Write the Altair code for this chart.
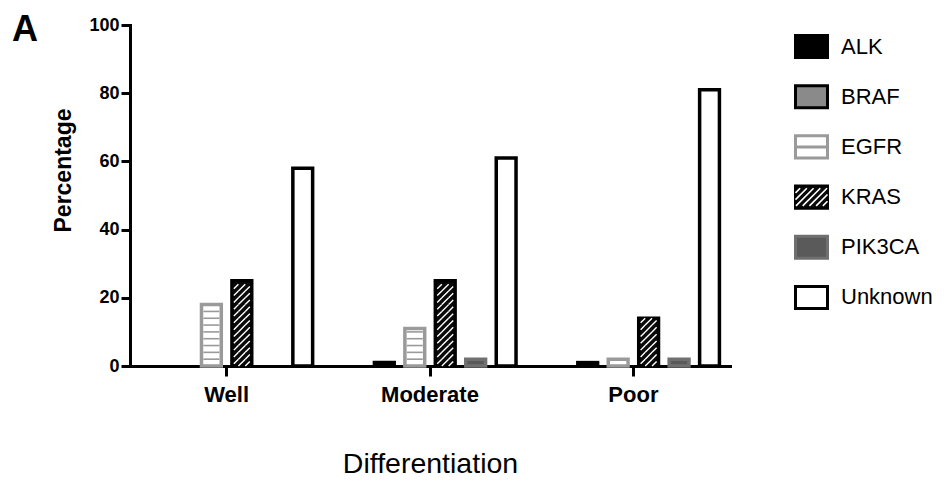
import altair as alt
import pandas as pd
import math

groups = ["Well", "Moderate", "Poor"]
genes = ["ALK", "BRAF", "EGFR", "KRAS", "PIK3CA", "Unknown"]
well = [0, 0, 18, 25, 0, 58]
moderate = [0, 1, 11, 25, 2, 61]
poor = [0, 1, 2, 14, 2, 81]
y_ticks = [0, 20, 40, 60, 80, 100]
panel_label = ["A"]

fills = ["#000000", "#8a8a8a", "#ffffff", "#0a0a0a", "#5a5a5a", "#ffffff"]
strokes = ["#000000", "#000000", "#9a9a9a", "#000000", "#707070", "#000000"]

PLOT_W = 600
PLOT_H = 341

rows = []
for g, vals in zip(groups, [well, moderate, poor]):
    for gene, v in zip(genes, vals):
        rows.append({"group": g, "gene": gene, "value": v})
df = pd.DataFrame(rows)

# EGFR horizontal stripes every 2 units
stripe_rows = [{"group": r.group, "gene": r.gene, "level": k}
               for r in df.itertuples() if r.gene == "EGFR"
               for k in range(2, int(r.value), 2)]
stripes = pd.DataFrame(stripe_rows)

# KRAS hatch tiles of 2 units each
hatch_rows = [{"group": r.group, "gene": r.gene, "center": 2 * k + 1}
              for r in df.itertuples() if r.gene == "KRAS"
              for k in range(int(r.value) // 2)]
hatch = pd.DataFrame(hatch_rows)


def hatch_path(h, step):
    """Diagonal '/' lines clipped to [-1,1]x[-h,h]."""
    parts = []
    kmax = int(math.ceil((1 + h) / step)) + 1
    for k in range(-kmax, kmax + 1):
        c = k * step
        x1 = max(-1.0, c - h)
        x2 = min(1.0, c + h)
        if x2 - x1 > 1e-6:
            parts.append(f"M {x1:.3f} {c - x1:.3f} L {x2:.3f} {c - x2:.3f}")
    return " ".join(parts)


tile_r = 8.0
tile_h = (2 * PLOT_H / 100) / 2 / tile_r
bar_hatch = hatch_path(tile_h, 2 * tile_h)

fill_scale = alt.Scale(domain=genes, range=fills)
stroke_scale = alt.Scale(domain=genes, range=strokes)

x_enc = alt.X("group:N", sort=groups,
              scale=alt.Scale(domain=groups, paddingInner=0.154, paddingOuter=0.052),
              axis=alt.Axis(title="Differentiation", labelAngle=0, labelFontSize=22,
                            labelFontWeight="bold", labelColor="black", tickSize=10,
                            labelPadding=8, titleFontSize=28.5, titleFontWeight="normal",
                            titleColor="black", titlePadding=44, domainWidth=3,
                            domainColor="black", tickWidth=3, tickColor="black",
                            domainCap="square"))
xo_enc = alt.XOffset("gene:N", sort=genes,
                     scale=alt.Scale(domain=genes, paddingInner=0.35, paddingOuter=0))
y_scale = alt.Scale(domain=[0, 100], nice=False)

bars = alt.Chart(df).transform_filter("datum.value > 0").mark_bar(
    strokeWidth=3.5, strokeJoin="miter"
).encode(
    x=x_enc,
    xOffset=xo_enc,
    y=alt.Y("value:Q", scale=y_scale,
            axis=alt.Axis(values=y_ticks, title="Percentage", titleFontSize=23,
                          titleFontWeight="bold", titleColor="black", labelFontSize=18,
                          labelFontWeight="bold", labelColor="black", tickSize=9,
                          labelPadding=2, titlePadding=13, domainWidth=3,
                          domainColor="black", tickWidth=3, tickColor="black",
                          grid=False, titleY=145, domainCap="square")),
    fill=alt.Fill("gene:N", scale=fill_scale, legend=None),
    stroke=alt.Stroke("gene:N", scale=stroke_scale, legend=None),
)

stripe_layer = alt.Chart(stripes).mark_tick(
    thickness=1.6, size=16, color="#9a9a9a", opacity=1
).encode(
    x=alt.X("group:N", sort=groups),
    xOffset=alt.XOffset("gene:N", sort=genes),
    y=alt.Y("level:Q", scale=y_scale),
)

hatch_layer = alt.Chart(hatch).mark_point(
    shape=bar_hatch, size=(2 * tile_r) ** 2, filled=False, stroke="white",
    strokeWidth=1.4, opacity=1
).encode(
    x=alt.X("group:N", sort=groups),
    xOffset=alt.XOffset("gene:N", sort=genes),
    y=alt.Y("center:Q", scale=y_scale),
)

label_layer = alt.Chart(pd.DataFrame({"label": panel_label})).mark_text(
    align="left", baseline="alphabetic", fontSize=36, fontWeight="bold",
    font="Liberation Sans", color="black"
).encode(x=alt.value(-118), y=alt.value(16), text="label:N")

main = alt.layer(bars, stripe_layer, hatch_layer, label_layer).properties(
    width=PLOT_W, height=PLOT_H,
)

# ---------- custom legend ----------
leg = pd.DataFrame({"gene": genes})
ly = alt.Y("gene:N", sort=genes,
           scale=alt.Scale(type="point", domain=genes, padding=0.43), axis=None)
rect_path = "M -1 -0.69 L 1 -0.69 L 1 0.69 L -1 0.69 Z"
SW = 32
sw_x = 81.5

swatch = alt.Chart(leg).mark_point(
    shape=rect_path, size=SW ** 2, filled=True, strokeWidth=3, opacity=1
).encode(
    y=ly, x=alt.value(sw_x),
    fill=alt.Fill("gene:N", scale=fill_scale, legend=None),
    stroke=alt.Stroke("gene:N", scale=stroke_scale, legend=None),
)

egfr_line = alt.Chart(leg).transform_filter("datum.gene == 'EGFR'").mark_point(
    shape="M -1 0 L 1 0", size=SW ** 2, filled=False, stroke="#9a9a9a",
    strokeWidth=3, opacity=1
).encode(y=ly, x=alt.value(sw_x))

kras_hatch = alt.Chart(leg).transform_filter("datum.gene == 'KRAS'").mark_point(
    shape=hatch_path(0.55, 0.42), size=SW ** 2, filled=False, stroke="white",
    strokeWidth=1.6, opacity=1
).encode(y=ly, x=alt.value(sw_x))

labels = alt.Chart(leg).mark_text(
    align="left", baseline="middle", font="Liberation Sans",
    fontSize=22, color="black"
).encode(y=ly, x=alt.value(111), text="gene:N")

legend = alt.layer(swatch, egfr_line, kras_hatch, labels).properties(
    width=200, height=294
)

chart = alt.hconcat(main, legend, spacing=0).properties(
    padding={"left": 4, "top": 4, "right": 0, "bottom": 0}
).configure(font="Liberation Sans").configure_view(strokeWidth=0, stroke="transparent")

chart.save("out.html", embed_options={"renderer": "svg", "actions": False})
